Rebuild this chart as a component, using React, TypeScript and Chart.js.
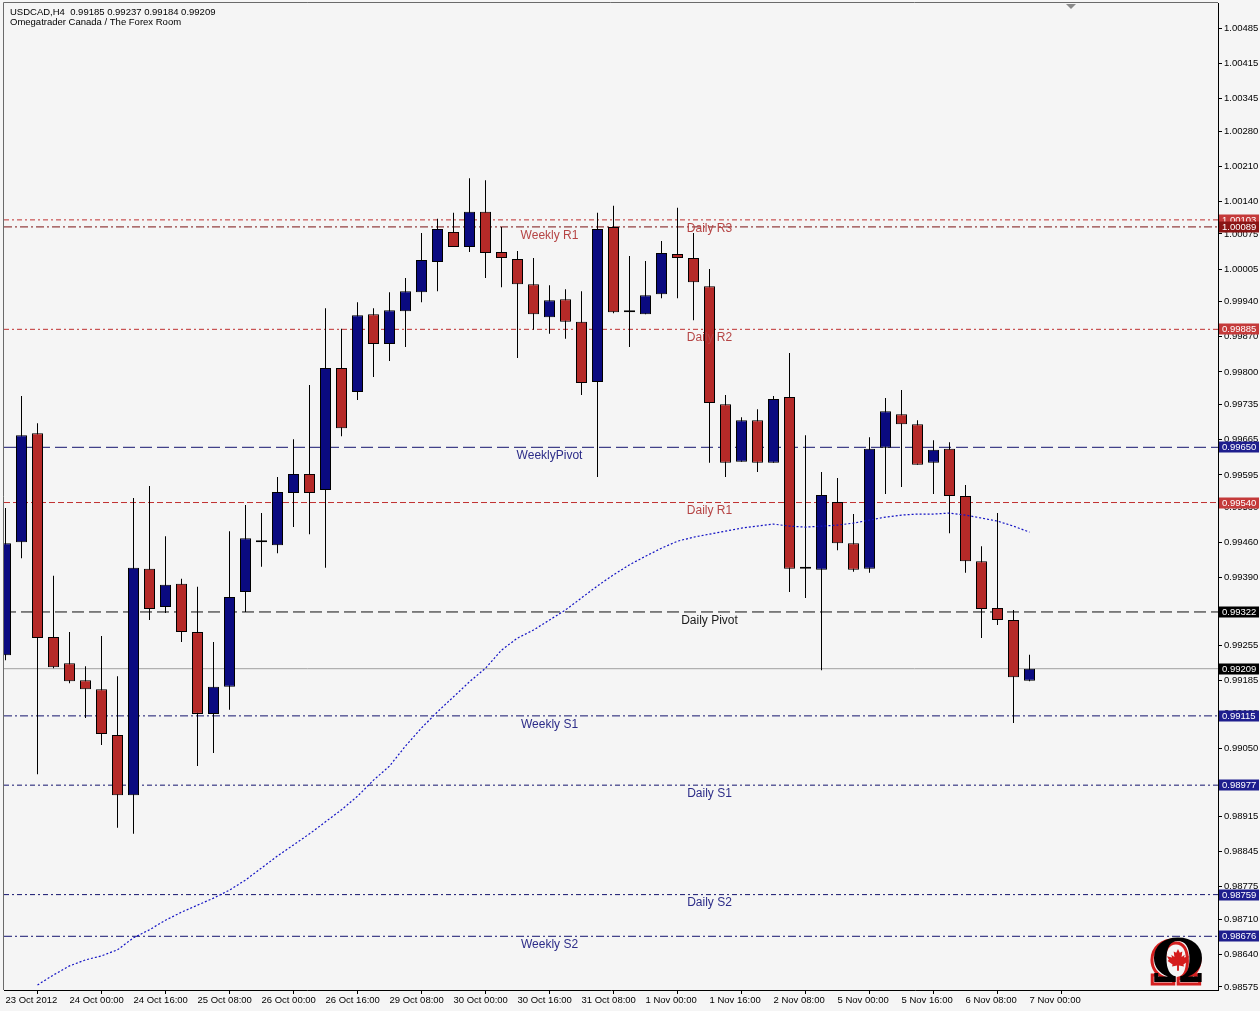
import React, { useEffect, useRef } from 'react';
import { Chart, registerables } from 'chart.js';

Chart.register(...registerables);

// ---------- data ----------
const headerLine1 = 'USDCAD,H4  0.99185 0.99237 0.99184 0.99209';
const headerLine2 = 'Omegatrader Canada / The Forex Room';

const openValues = [
  0.99236, 0.99461, 0.99678, 0.99272, 0.99220, 0.99186, 0.99168, 0.99077, 0.98957, 0.99408,
  0.99332, 0.99378, 0.99282, 0.99119, 0.99173, 0.99362, 0.99461, 0.99455, 0.99559, 0.99597,
  0.99565, 0.99808, 0.99760, 0.99915, 0.99856, 0.99921, 0.99959, 1.00019, 1.00079, 1.00049,
  1.00119, 1.00039, 1.00025, 0.99975, 0.99909, 0.99945, 0.99900, 0.99780, 1.00089, 0.99919,
  0.99915, 0.99955, 1.00035, 1.00027, 0.99971, 0.99736, 0.99621, 0.99704, 0.99619, 0.99750,
  0.99408, 0.99406, 0.99541, 0.99459, 0.99408, 0.99649, 0.99716, 0.99696, 0.99619, 0.99647,
  0.99553, 0.99423, 0.99330, 0.99306, 0.99185,
];
const highValues = [
  0.99529, 0.99752, 0.99698, 0.99394, 0.99282, 0.99214, 0.99274, 0.99194, 0.99549, 0.99573,
  0.99473, 0.99388, 0.99372, 0.99262, 0.99483, 0.99535, 0.99519, 0.99591, 0.99666, 0.99774,
  0.99927, 0.99886, 0.99939, 0.99927, 0.99959, 0.99987, 1.00077, 1.00105, 1.00117, 1.00186,
  1.00182, 1.00089, 1.00041, 1.00027, 0.99973, 0.99965, 0.99961, 1.00117, 1.00131, 1.00031,
  1.00021, 1.00061, 1.00127, 1.00077, 1.00005, 0.99754, 0.99710, 0.99726, 0.99752, 0.99838,
  0.99674, 0.99601, 0.99589, 0.99517, 0.99670, 0.99748, 0.99764, 0.99704, 0.99664, 0.99660,
  0.99575, 0.99453, 0.99519, 0.99326, 0.99237,
];
const lowValues = [
  0.99226, 0.99429, 0.98999, 0.99210, 0.99180, 0.99111, 0.99057, 0.98892, 0.98880, 0.99306,
  0.99320, 0.99262, 0.99015, 0.99041, 0.99127, 0.99322, 0.99412, 0.99439, 0.99491, 0.99477,
  0.99410, 0.99672, 0.99744, 0.99790, 0.99822, 0.99850, 0.99939, 0.99961, 1.00049, 1.00039,
  0.99987, 0.99969, 0.99828, 0.99884, 0.99876, 0.99866, 0.99754, 0.99591, 0.99917, 0.99850,
  0.99915, 0.99947, 0.99947, 0.99903, 0.99619, 0.99591, 0.99621, 0.99601, 0.99619, 0.99362,
  0.99350, 0.99206, 0.99445, 0.99402, 0.99400, 0.99557, 0.99571, 0.99615, 0.99557, 0.99479,
  0.99400, 0.99270, 0.99296, 0.99101, 0.99184,
];
const closeValues = [
  0.99459, 0.99674, 0.99270, 0.99212, 0.99184, 0.99168, 0.99079, 0.98957, 0.99410, 0.99328,
  0.99376, 0.99282, 0.99119, 0.99173, 0.99352, 0.99469, 0.99461, 0.99561, 0.99597, 0.99559,
  0.99808, 0.99688, 0.99913, 0.99856, 0.99923, 0.99961, 1.00023, 1.00085, 1.00049, 1.00119,
  1.00037, 1.00027, 0.99975, 0.99915, 0.99943, 0.99900, 0.99778, 1.00085, 0.99919, 0.99919,
  0.99953, 1.00037, 1.00027, 0.99979, 0.99738, 0.99619, 0.99704, 0.99619, 0.99746, 0.99408,
  0.99408, 0.99555, 0.99459, 0.99406, 0.99647, 0.99722, 0.99696, 0.99615, 0.99645, 0.99553,
  0.99423, 0.99328, 0.99306, 0.99192, 0.99209,
];

const maStartBar = 2;
const maValues = [
  0.98579, 0.98599, 0.98617, 0.98629, 0.98637, 0.98649, 0.98673, 0.98689, 0.98708, 0.98724,
  0.98738, 0.98752, 0.98768, 0.98788, 0.98812, 0.98836, 0.98858, 0.98880, 0.98904, 0.98928,
  0.98955, 0.98987, 0.99015, 0.99055, 0.99091, 0.99123, 0.99153, 0.99183, 0.99210, 0.99246,
  0.99270, 0.99286, 0.99306, 0.99326, 0.99350, 0.99374, 0.99396, 0.99416, 0.99433, 0.99449,
  0.99463, 0.99471, 0.99477, 0.99483, 0.99489, 0.99493, 0.99497, 0.99493, 0.99491, 0.99493,
  0.99495, 0.99499, 0.99505, 0.99511, 0.99515, 0.99517, 0.99517, 0.99519, 0.99515, 0.99509,
  0.99503, 0.99493, 0.99481,
];

const xTickBars = [0, 4, 8, 12, 16, 20, 24, 28, 32, 36, 40, 44, 48, 52, 56, 60, 64];
const xTickLabels = [
  '23 Oct 2012', '24 Oct 00:00', '24 Oct 16:00', '25 Oct 08:00', '26 Oct 00:00', '26 Oct 16:00',
  '29 Oct 08:00', '30 Oct 00:00', '30 Oct 16:00', '31 Oct 08:00', '1 Nov 00:00', '1 Nov 16:00',
  '2 Nov 08:00', '5 Nov 00:00', '5 Nov 16:00', '6 Nov 08:00', '7 Nov 00:00',
];

const yTickValues = [
  1.00485, 1.00415, 1.00345, 1.0028, 1.0021, 1.0014, 1.00075, 1.00005, 0.9994, 0.9987,
  0.998, 0.99735, 0.99665, 0.99595, 0.9953, 0.9946, 0.9939, 0.99325, 0.99255, 0.99185,
  0.9912, 0.9905, 0.9898, 0.98915, 0.98845, 0.98775, 0.9871, 0.9864, 0.98575,
];

const levelNames = [
  'Daily R3', 'Weekly R1', 'Daily R2', 'WeeklyPivot', 'Daily R1',
  'Daily Pivot', 'Weekly S1', 'Daily S1', 'Daily S2', 'Weekly S2',
];
const levelValues = [
  1.00103, 1.00089, 0.99885, 0.9965, 0.9954, 0.99322, 0.99115, 0.98977, 0.98759, 0.98676,
];
const currentPrice = 0.99209;

// ---------- styles / layout (kept apart from the data) ----------
const RED_LINE = '#c03030';
const RED_TEXT = '#b54444';
const NAVY_LINE = '#14146e';
const NAVY_TEXT = '#2c2c88';
const BOX_NAVY = '#1e1e8e';
type LevelStyle = { line: string; dash: number[]; text: string; box: string; anchorBar: number };
const levelStyles: Record<string, LevelStyle> = {
  'Daily R3': { line: RED_LINE, dash: [5, 3, 2, 3], text: RED_TEXT, box: '#c43a3a', anchorBar: 44 },
  'Weekly R1': { line: '#7a1212', dash: [8, 3, 2, 3], text: RED_TEXT, box: '#8a1414', anchorBar: 34 },
  'Daily R2': { line: RED_LINE, dash: [5, 3, 2, 3], text: RED_TEXT, box: '#c43a3a', anchorBar: 44 },
  'WeeklyPivot': { line: NAVY_LINE, dash: [12, 5], text: NAVY_TEXT, box: BOX_NAVY, anchorBar: 34 },
  'Daily R1': { line: RED_LINE, dash: [6, 3], text: RED_TEXT, box: '#c43a3a', anchorBar: 44 },
  'Daily Pivot': { line: '#111111', dash: [12, 5], text: '#1a1a1a', box: '#000000', anchorBar: 44 },
  'Weekly S1': { line: NAVY_LINE, dash: [8, 3, 2, 3], text: NAVY_TEXT, box: BOX_NAVY, anchorBar: 34 },
  'Daily S1': { line: NAVY_LINE, dash: [5, 3, 2, 3], text: NAVY_TEXT, box: BOX_NAVY, anchorBar: 44 },
  'Daily S2': { line: NAVY_LINE, dash: [5, 3, 2, 3], text: NAVY_TEXT, box: BOX_NAVY, anchorBar: 44 },
  'Weekly S2': { line: NAVY_LINE, dash: [8, 3, 2, 3], text: NAVY_TEXT, box: BOX_NAVY, anchorBar: 34 },
};

const BG = '#f5f5f5';
const BULL = '#0a0a80';
const BEAR = '#b52a28';
const FONT = '"Liberation Sans", Arial, sans-serif';
const X_MIN = -0.09375;
const X_MAX = 75.78125;
const Y_MIN = 0.98569;
const Y_MAX = 1.00535;

function drawMapleLeaf(ctx: CanvasRenderingContext2D, cx: number, cy: number, s: number) {
  const pts = [
    [0, -1], [0.15, -0.68], [0.36, -0.8], [0.3, -0.33], [0.56, -0.52], [0.5, -0.3], [0.92, -0.4],
    [0.76, -0.1], [0.86, 0.0], [0.45, 0.3], [0.5, 0.46], [0.08, 0.38], [0.08, 0.82], [-0.08, 0.82],
    [-0.08, 0.38], [-0.5, 0.46], [-0.45, 0.3], [-0.86, 0.0], [-0.76, -0.1], [-0.92, -0.4],
    [-0.5, -0.3], [-0.56, -0.52], [-0.3, -0.33], [-0.36, -0.8], [-0.15, -0.68],
  ];
  ctx.beginPath();
  pts.forEach(([px, py], i) => {
    const X = cx + px * s;
    const Y = cy + py * s;
    if (i === 0) ctx.moveTo(X, Y);
    else ctx.lineTo(X, Y);
  });
  ctx.closePath();
  ctx.fill();
}

const decorPlugin = {
  id: 'mt4decor',
  beforeDraw(chart: any) {
    const ctx = chart.ctx as CanvasRenderingContext2D;
    ctx.save();
    ctx.fillStyle = BG;
    ctx.fillRect(0, 0, chart.width, chart.height);
    ctx.restore();
  },
  afterDatasetsDraw(chart: any) {
    const ctx = chart.ctx as CanvasRenderingContext2D;
    const xs = chart.scales.x;
    const ys = chart.scales.y;
    ctx.save();
    ctx.font = `12px ${FONT}`;
    ctx.textAlign = 'center';
    ctx.textBaseline = 'middle';
    levelNames.forEach((name, i) => {
      const st = levelStyles[name];
      const px = xs.getPixelForValue(st.anchorBar);
      const py = ys.getPixelForValue(levelValues[i]);
      ctx.fillStyle = st.text;
      ctx.fillText(name, px, py + 8.5);
    });
    ctx.restore();
  },
  afterDraw(chart: any) {
    const ctx = chart.ctx as CanvasRenderingContext2D;
    const ys = chart.scales.y;
    const area = chart.chartArea;
    ctx.save();
    // frame (left & top)
    ctx.strokeStyle = '#6a6a6a';
    ctx.lineWidth = 1;
    ctx.beginPath();
    ctx.moveTo(3.5, area.bottom);
    ctx.lineTo(3.5, 2.5);
    ctx.lineTo(area.right, 2.5);
    ctx.stroke();

    // header
    ctx.fillStyle = '#000';
    ctx.font = `9.5px ${FONT}`;
    ctx.textAlign = 'left';
    ctx.textBaseline = 'middle';
    ctx.fillText(headerLine1, 10, 12);
    ctx.fillText(headerLine2, 10, 22);

    // shift marker triangle
    ctx.fillStyle = '#8a8a8a';
    ctx.beginPath();
    ctx.moveTo(1066, 4);
    ctx.lineTo(1076, 4);
    ctx.lineTo(1071, 9);
    ctx.closePath();
    ctx.fill();

    // right-axis price boxes
    const boxes: { v: number; color: string }[] = levelNames.map((n, i) => ({
      v: levelValues[i],
      color: levelStyles[n].box,
    }));
    boxes.push({ v: currentPrice, color: '#000000' });
    ctx.font = `9.5px ${FONT}`;
    ctx.textBaseline = 'middle';
    boxes.forEach((b) => {
      const py = Math.round(ys.getPixelForValue(b.v));
      ctx.fillStyle = b.color;
      ctx.fillRect(area.right + 1, py - 5.5, 40, 11);
      ctx.fillStyle = '#ffffff';
      ctx.fillText(b.v.toFixed(5), area.right + 4, py + 0.5);
    });

    // logo
    ctx.textAlign = 'center';
    ctx.textBaseline = 'alphabetic';
    ctx.font = 'bold 60px "DejaVu Serif", serif';
    ctx.lineWidth = 3;
    ctx.strokeStyle = '#d42020';
    ctx.strokeText('\u03A9', 1176, 984);
    ctx.fillStyle = '#000';
    ctx.fillText('\u03A9', 1178, 982);
    ctx.fillStyle = '#d41c1c';
    drawMapleLeaf(ctx, 1178, 961, 12);
    ctx.restore();
  },
};

export default function App() {
  const ref = useRef<HTMLCanvasElement>(null);

  useEffect(() => {
    const canvas = ref.current;
    if (!canvas) return;

    const wickData = highValues.map((h, i) => ({ x: i, y: [lowValues[i], h] }));
    const bodyData = openValues.map((o, i) => ({ x: i, y: [o, closeValues[i]] }));
    const bodyColors = openValues.map((o, i) => (closeValues[i] > o ? BULL : closeValues[i] < o ? BEAR : '#000'));
    const maData = maValues.map((v, i) => ({ x: maStartBar + i, y: v }));

    const levelDatasets = levelNames.map((name, i) => ({
      type: 'line' as const,
      data: [
        { x: X_MIN, y: levelValues[i] },
        { x: X_MAX, y: levelValues[i] },
      ],
      borderColor: levelStyles[name].line,
      borderDash: levelStyles[name].dash,
      borderWidth: 1,
      pointRadius: 0,
      order: 5,
    }));

    const chart = new Chart(canvas, {
      type: 'bar',
      data: {
        datasets: [
          {
            type: 'line',
            data: maData,
            borderColor: '#1212c4',
            borderDash: [2, 2],
            borderWidth: 1.2,
            pointRadius: 0,
            tension: 0,
            order: 0,
          } as any,
          {
            type: 'bar',
            data: bodyData,
            backgroundColor: bodyColors,
            borderColor: '#000',
            borderWidth: 1,
            borderSkipped: false,
            barThickness: 11,
            grouped: false,
            minBarLength: 2,
            inflateAmount: 0,
            order: 1,
          } as any,
          {
            type: 'bar',
            data: wickData,
            backgroundColor: '#000',
            borderWidth: 0,
            barThickness: 1,
            grouped: false,
            inflateAmount: 0,
            order: 2,
          } as any,
          {
            type: 'line',
            data: [
              { x: X_MIN, y: currentPrice },
              { x: X_MAX, y: currentPrice },
            ],
            borderColor: '#a0a0a0',
            borderWidth: 1,
            pointRadius: 0,
            order: 4,
          } as any,
          ...(levelDatasets as any[]),
        ],
      },
      options: {
        animation: false,
        responsive: false,
        devicePixelRatio: 1,
        events: [],
        layout: { padding: { left: 4, top: 3, right: 0, bottom: 0 } },
        plugins: {
          legend: { display: false },
          tooltip: { enabled: false },
          title: { display: false },
        },
        scales: {
          x: {
            type: 'linear',
            position: 'bottom',
            min: X_MIN,
            max: X_MAX,
            offset: false,
            afterBuildTicks: (scale: any) => {
              scale.ticks = xTickBars.map((v) => ({ value: v }));
            },
            afterFit: (scale: any) => {
              scale.height = 21;
              scale.paddingLeft = 0;
              scale.paddingRight = 0;
            },
            grid: {
              drawOnChartArea: false,
              drawTicks: true,
              tickLength: 4,
              color: '#000',
            },
            border: { display: true, color: '#000', width: 1 },
            ticks: {
              autoSkip: false,
              maxRotation: 0,
              minRotation: 0,
              align: 'start',
              padding: 1,
              color: '#000',
              font: { family: FONT, size: 9.5 },
              callback: (v: any) => {
                const k = xTickBars.indexOf(Number(v));
                return k >= 0 ? xTickLabels[k] : '';
              },
            },
          },
          y: {
            type: 'linear',
            position: 'right',
            min: Y_MIN,
            max: Y_MAX,
            afterBuildTicks: (scale: any) => {
              scale.ticks = yTickValues.map((v) => ({ value: v }));
            },
            afterFit: (scale: any) => {
              scale.width = 42;
              scale.paddingTop = 0;
              scale.paddingBottom = 0;
            },
            grid: {
              drawOnChartArea: false,
              drawTicks: true,
              tickLength: 4,
              color: '#000',
            },
            border: { display: true, color: '#000', width: 1 },
            ticks: {
              autoSkip: false,
              padding: 2,
              color: '#000',
              font: { family: FONT, size: 9.5 },
              callback: (v: any) => Number(v).toFixed(5),
            },
          },
        },
      } as any,
      plugins: [decorPlugin as any],
    });

    return () => chart.destroy();
  }, []);

  return (
    <div style={{ position: 'fixed', left: 0, top: 0, width: 1260, height: 1011, background: BG }}>
      <canvas ref={ref} width={1260} height={1011} style={{ display: 'block', width: 1260, height: 1011 }} />
    </div>
  );
}
